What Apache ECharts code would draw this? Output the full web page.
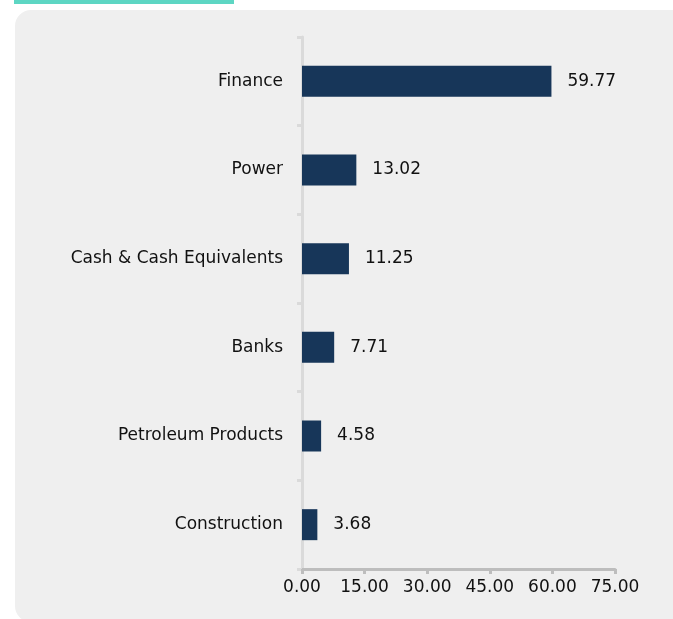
<!DOCTYPE html>
<html>
<head>
<meta charset="utf-8">
<script src="https://cdn.jsdelivr.net/npm/echarts@6/dist/echarts.min.js"></script>
<style>
html, body { margin: 0; padding: 0; background: #fff; }
#main { width: 673px; height: 619px; }
</style>
</head>
<body>
<div id="main"></div>
<script>
// 行业分布数据
var categories = ['Construction', 'Petroleum Products', 'Banks', 'Cash & Cash Equivalents', 'Power', 'Finance'];
var values = [3.68, 4.58, 7.71, 11.25, 13.02, 59.77];
var xTicks = [0, 15, 30, 45, 60, 75];

var chart = echarts.init(document.getElementById('main'));
var fontName = 'DejaVu Sans';

var option = {
    animation: false,
    backgroundColor: '#fff',
    graphic: [
        {   /*灰色背景面板*/
            type: 'rect',
            shape: { x: 15, y: 10, width: 700, height: 612, r: 16 },
            style: { fill: '#efefef' },
            z: -10
        },
        {   /*顶部青色条*/
            type: 'rect',
            shape: { x: 14, y: 0, width: 220, height: 4 },
            style: { fill: '#5dd6c3' },
            z: -9
        }
    ],
    grid: {
        left: 302,
        right: 58,
        top: 37,
        bottom: 50,
        containLabel: false
    },
    xAxis: {
        type: 'value',
        min: xTicks[0],
        max: xTicks[xTicks.length - 1],
        interval: 15,
        splitLine: { show: false },
        axisLine: { show: true, lineStyle: { color: '#bdbdbd', width: 3 } },
        axisTick: { show: true, length: 5, lineStyle: { color: '#bdbdbd', width: 3 } },
        axisLabel: {
            color: '#111',
            fontSize: 17,
            fontFamily: fontName,
            margin: 10,
            formatter: function (v) { return v.toFixed(2); }
        }
    },
    yAxis: {
        type: 'category',
        data: categories,
        offset: 1,
        axisLine: { show: true, lineStyle: { color: '#dadada', width: 3 } },
        axisTick: { show: true, length: 5, lineStyle: { color: '#dadada', width: 3 } },
        axisLabel: {
            color: '#111',
            fontSize: 17,
            fontFamily: fontName,
            margin: 18
        }
    },
    series: [
        {
            type: 'bar',
            data: values,
            barWidth: 31,
            itemStyle: { color: '#173659' },
            label: {
                show: true,
                position: 'right',
                distance: 16,
                color: '#111',
                fontSize: 17,
                fontFamily: fontName,
                formatter: function (p) { return p.value.toFixed(2); }
            }
        }
    ]
};
chart.setOption(option);
</script>
</body>
</html>
